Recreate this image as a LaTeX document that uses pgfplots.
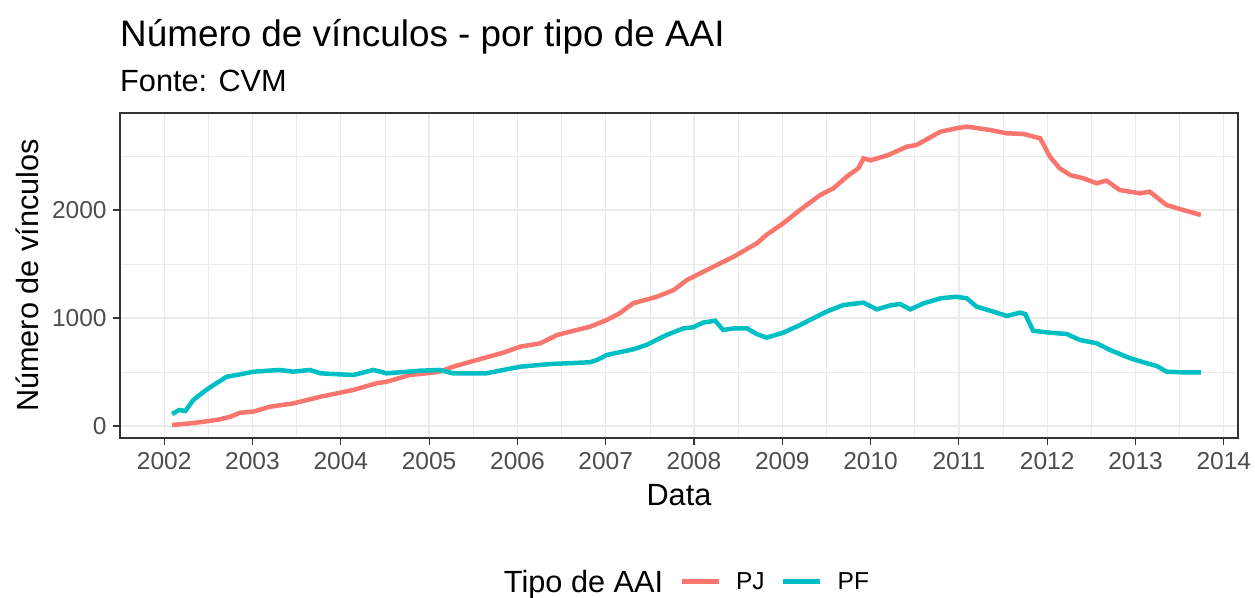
\documentclass[border=0pt]{standalone}
\usepackage{pgfplots}
\pgfplotsset{compat=1.18}
\usepackage{fontspec}
\setmainfont{Liberation Sans}
\definecolor{pj}{HTML}{F8766D}
\definecolor{pf}{HTML}{00BFC4}
\definecolor{gray92}{HTML}{EBEBEB}
\definecolor{gray20}{HTML}{333333}
\definecolor{gray30}{HTML}{4D4D4D}
\newcommand{\basefont}{\fontsize{30.8}{36}\selectfont}
\newcommand{\smallfont}{\fontsize{24.6}{29}\selectfont}

\begin{document}
\begin{tikzpicture}
\path[use as bounding box] (0,0) rectangle (1255bp,-598bp);
\node[anchor=base west,inner sep=0] at (120bp,-46bp) {\fontsize{37}{44}\selectfont Número de vínculos - por tipo de AAI};
\node[anchor=base west,inner sep=0] at (120bp,-91bp) {\basefont Fonte: CVM};
\begin{axis}[at={(120bp,-113bp)},anchor=north west,scale only axis,
  width=1118bp,height=325bp,
  xmin=2001.5,xmax=2014.16,ymin=-111,ymax=2898,
  xtick={2002,2003,...,2014},ytick={0,1000,2000},
  minor xtick={2001.5,2002.5,...,2013.5},minor ytick={500,1500,2500},
  grid=both,major grid style={gray92,line width=1.2bp},minor grid style={gray92,line width=0.6bp},
  axis line style={gray20,line width=1.1bp},
  tick pos=left,tick align=outside,major tick length=7bp,minor tick length=0pt,
  major tick style={gray20,line width=1.1bp},
  /pgf/number format/1000 sep={},/pgf/number format/assume math mode=true,
  tick label style={font=\smallfont,text=gray30},
  xticklabel style={yshift=-4bp},
  yticklabel style={xshift=-3bp},
  xlabel={Data},ylabel={Número de vínculos},
  label style={font=\basefont},
  xlabel style={at={(axis description cs:0.5,-0.175)},anchor=center},
  ylabel style={at={(axis description cs:-0.0825,0.5)},anchor=center,rotate=0},
  legend style={at={(axis description cs:0.5009,-0.443)},anchor=center,draw=none,fill=none,
    font=\smallfont,legend columns=-1,
    /tikz/every even column/.append style={column sep=14bp},
    /tikz/every odd column/.append style={column sep=13bp}},
  legend image code/.code={\draw[#1,line width=5bp] (0bp,0bp) -- (37bp,0bp);},
]
\addlegendimage{empty legend}
\addplot[pj,line width=4.5bp] coordinates {
(2002.09,9)(2002.30,25)(2002.45,40)(2002.62,60)(2002.75,86)(2002.86,123)
(2003.01,133)(2003.20,179)(2003.46,209)(2003.77,271)(2003.99,308)
(2004.14,333)(2004.40,395)(2004.52,410)(2004.78,472)(2004.97,488)
(2005.12,503)(2005.27,549)(2005.54,611)(2005.84,679)(2006.03,734)
(2006.26,766)(2006.45,843)(2006.82,919)(2007.01,981)(2007.15,1040)
(2007.31,1136)(2007.58,1197)(2007.77,1259)(2007.92,1352)(2008.07,1414)
(2008.26,1491)(2008.45,1568)(2008.71,1691)(2008.82,1769)(2009.01,1877)
(2009.20,2000)(2009.43,2139)(2009.58,2201)(2009.73,2309)(2009.86,2386)
(2009.92,2478)(2010.00,2460)(2010.20,2509)(2010.41,2586)(2010.52,2602)
(2010.79,2725)(2010.97,2756)(2011.09,2772)(2011.35,2741)(2011.54,2710)
(2011.73,2704)(2011.92,2664)(2012.03,2494)(2012.14,2386)(2012.26,2324)
(2012.41,2293)(2012.56,2247)(2012.67,2272)(2012.82,2185)(2013.05,2154)
(2013.16,2170)(2013.35,2046)(2013.54,2000)(2013.74,1954)
};
\addplot[pf,line width=4.5bp] coordinates {
(2002.09,111)(2002.17,148)(2002.24,139)(2002.33,241)(2002.45,318)
(2002.56,380)(2002.71,457)(2002.82,472)(2003.01,503)(2003.31,519)
(2003.46,503)(2003.65,519)(2003.77,488)(2004.14,472)(2004.37,519)
(2004.52,488)(2004.90,512)(2005.12,519)(2005.27,488)(2005.65,488)
(2005.84,519)(2006.03,549)(2006.37,574)(2006.82,590)(2006.90,611)
(2007.01,657)(2007.31,710)(2007.46,750)(2007.69,843)(2007.88,904)
(2007.99,914)(2008.10,957)(2008.24,975)(2008.33,889)(2008.45,904)
(2008.60,904)(2008.71,852)(2008.82,818)(2009.01,864)(2009.20,935)
(2009.35,997)(2009.50,1059)(2009.69,1120)(2009.92,1142)(2010.07,1080)
(2010.22,1116)(2010.33,1130)(2010.45,1080)(2010.60,1136)(2010.79,1182)
(2010.97,1197)(2011.09,1182)(2011.20,1105)(2011.39,1059)(2011.54,1019)
(2011.69,1049)(2011.75,1037)(2011.84,882)(2012.03,864)(2012.22,852)
(2012.37,796)(2012.56,766)(2012.71,704)(2012.94,627)(2013.13,580)
(2013.24,556)(2013.35,503)(2013.54,497)(2013.74,497)
};
\legend{{\basefont Tipo de AAI\hspace{7bp}},PJ,PF}
\end{axis}
\end{tikzpicture}
\end{document}
